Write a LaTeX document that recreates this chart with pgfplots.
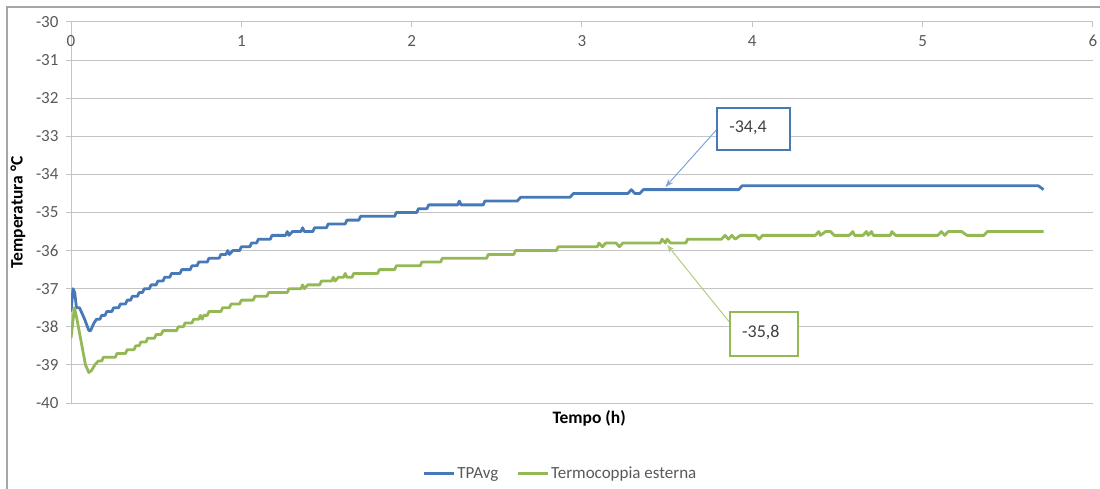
\documentclass[border=0pt]{standalone}
\usepackage{fontspec}
\setmainfont{Carlito}
\usepackage{pgfplots}
\pgfplotsset{compat=1.18}
\usetikzlibrary{arrows.meta}
\definecolor{blueS}{HTML}{4779B8}
\definecolor{greenS}{HTML}{94B853}
\definecolor{blueA}{HTML}{7EA6D6}
\definecolor{greenA}{HTML}{B0CE80}
\definecolor{gridgray}{HTML}{C4C4C4}
\definecolor{framegray}{HTML}{A6A6A6}
\definecolor{txtgray}{HTML}{595959}
\definecolor{boxtxt}{HTML}{404040}
\begin{document}
\begin{tikzpicture}[font=\fontsize{17bp}{20bp}\selectfont]
\useasboundingbox (0,0) rectangle (1100bp,489bp);
\draw[framegray, line width=1.2bp] (7bp,-5bp) -- (7bp,482bp) -- (1105bp,482bp);
\begin{axis}[
  at={(71bp,86bp)}, anchor=south west,
  scale only axis, width=1022bp, height=381bp,
  xmin=0, xmax=6, ymin=-40, ymax=-30,
  xtick={0,1,2,3,4,5,6}, ytick={-40,-39,-38,-37,-36,-35,-34,-33,-32,-31,-30},
  axis x line*=top, axis y line*=left,
  axis line style={draw=gridgray, line width=1bp},
  ymajorgrids, grid style={draw=gridgray, line width=1bp},
  xtick align=inside, ytick align=outside,
  major tick length=5bp,
  tick style={draw=gridgray, line width=1bp},
  tick label style={font=\fontsize{17bp}{20bp}\selectfont, text=txtgray, /pgf/number format/assume math mode=true},
  xticklabel style={anchor=north, yshift=-10bp},
  yticklabel style={xshift=-4bp},
  every axis y label/.style={at={(rel axis cs:0,0.5)}, xshift=-53bp, rotate=90, anchor=center, font=\bfseries\fontsize{17.5bp}{20bp}\selectfont},
  ylabel={Temperatura °C},
  every axis x label/.style={at={(rel axis cs:0.507,0)}, yshift=-15bp, anchor=center, font=\bfseries\fontsize{17.5bp}{20bp}\selectfont},
  xlabel={Tempo (h)},
  legend style={at={(rel axis cs:0.479,-0.186)}, anchor=center, draw=none, fill=none, legend columns=2, font=\fontsize{17bp}{20bp}\selectfont, text=txtgray, /tikz/every even column/.append style={column sep=16bp}},
  legend image code/.code={\draw[#1, line width=2.8bp] (0bp,0bp) -- (30bp,0bp);},
]
\addplot[blueS, line width=2.8bp, line join=round] coordinates {(0,-37.6) (0.012,-37.0) (0.022,-37.1) (0.032,-37.5) (0.05,-37.5) (0.06,-37.6) (0.08,-37.8) (0.105,-38.1) (0.115,-38.1) (0.135,-37.9) (0.15,-37.8) (0.17,-37.8) (0.18,-37.7) (0.2,-37.7) (0.21,-37.6) (0.24,-37.6) (0.25,-37.5) (0.28,-37.5) (0.29,-37.4) (0.32,-37.4) (0.33,-37.3) (0.35,-37.3) (0.36,-37.2) (0.39,-37.2) (0.4,-37.1) (0.42,-37.1) (0.43,-37.0) (0.46,-37.0) (0.47,-36.9) (0.5,-36.9) (0.51,-36.8) (0.54,-36.8) (0.55,-36.7) (0.58,-36.7) (0.59,-36.6) (0.64,-36.6) (0.65,-36.5) (0.7,-36.5) (0.71,-36.4) (0.74,-36.4) (0.75,-36.3) (0.8,-36.3) (0.81,-36.2) (0.87,-36.2) (0.88,-36.1) (0.91,-36.1) (0.92,-36.0) (0.93,-36.1) (0.95,-36.0) (0.99,-36.0) (1.0,-35.9) (1.05,-35.9) (1.06,-35.8) (1.09,-35.8) (1.1,-35.7) (1.17,-35.7) (1.18,-35.6) (1.26,-35.6) (1.27,-35.5) (1.28,-35.6) (1.3,-35.5) (1.35,-35.5) (1.36,-35.4) (1.37,-35.5) (1.42,-35.5) (1.43,-35.4) (1.5,-35.4) (1.51,-35.3) (1.61,-35.3) (1.62,-35.2) (1.69,-35.2) (1.7,-35.1) (1.9,-35.1) (1.91,-35.0) (2.03,-35.0) (2.04,-34.9) (2.09,-34.9) (2.1,-34.8) (2.27,-34.8) (2.28,-34.7) (2.29,-34.8) (2.42,-34.8) (2.43,-34.7) (2.62,-34.7) (2.64,-34.6) (2.93,-34.6) (2.95,-34.5) (3.27,-34.5) (3.29,-34.4) (3.31,-34.5) (3.34,-34.5) (3.36,-34.4) (3.92,-34.4) (3.94,-34.3) (5.68,-34.3) (5.71,-34.4)};
\addlegendentry{TPAvg}
\addplot[greenS, line width=2.8bp, line join=round] coordinates {(0,-38.3) (0.02,-37.5) (0.035,-37.8) (0.06,-38.4) (0.085,-39.0) (0.105,-39.2) (0.12,-39.15) (0.14,-39.0) (0.16,-38.9) (0.18,-38.9) (0.19,-38.8) (0.26,-38.8) (0.27,-38.7) (0.32,-38.7) (0.33,-38.6) (0.37,-38.6) (0.38,-38.5) (0.4,-38.5) (0.41,-38.4) (0.44,-38.4) (0.45,-38.3) (0.49,-38.3) (0.5,-38.2) (0.53,-38.2) (0.54,-38.1) (0.62,-38.1) (0.63,-38.0) (0.66,-38.0) (0.67,-37.9) (0.71,-37.9) (0.72,-37.8) (0.75,-37.8) (0.76,-37.7) (0.77,-37.8) (0.78,-37.7) (0.8,-37.7) (0.81,-37.6) (0.88,-37.6) (0.89,-37.5) (0.93,-37.5) (0.94,-37.4) (0.99,-37.4) (1.0,-37.3) (1.07,-37.3) (1.08,-37.2) (1.15,-37.2) (1.16,-37.1) (1.27,-37.1) (1.28,-37.0) (1.35,-37.0) (1.36,-36.9) (1.37,-37.0) (1.39,-36.9) (1.46,-36.9) (1.47,-36.8) (1.53,-36.8) (1.54,-36.7) (1.55,-36.8) (1.57,-36.7) (1.6,-36.7) (1.61,-36.6) (1.62,-36.7) (1.65,-36.7) (1.66,-36.6) (1.8,-36.6) (1.81,-36.5) (1.9,-36.5) (1.91,-36.4) (2.05,-36.4) (2.06,-36.3) (2.17,-36.3) (2.18,-36.2) (2.44,-36.2) (2.45,-36.1) (2.6,-36.1) (2.61,-36.0) (2.85,-36.0) (2.86,-35.9) (3.09,-35.9) (3.1,-35.8) (3.12,-35.9) (3.14,-35.8) (3.2,-35.8) (3.22,-35.9) (3.24,-35.8) (3.46,-35.8) (3.47,-35.7) (3.49,-35.8) (3.5,-35.7) (3.52,-35.8) (3.61,-35.8) (3.62,-35.7) (3.82,-35.7) (3.84,-35.6) (3.86,-35.7) (3.88,-35.6) (3.9,-35.7) (3.93,-35.6) (4.02,-35.6) (4.04,-35.7) (4.06,-35.6) (4.37,-35.6) (4.39,-35.5) (4.4,-35.6) (4.43,-35.5) (4.46,-35.5) (4.48,-35.6) (4.57,-35.6) (4.59,-35.5) (4.6,-35.6) (4.65,-35.6) (4.67,-35.5) (4.68,-35.6) (4.7,-35.5) (4.71,-35.6) (4.81,-35.6) (4.82,-35.5) (4.84,-35.6) (5.09,-35.6) (5.11,-35.5) (5.13,-35.6) (5.15,-35.5) (5.23,-35.5) (5.26,-35.6) (5.36,-35.6) (5.38,-35.5) (5.71,-35.5)};
\addlegendentry{Termocoppia esterna}
\draw[blueA, line width=1bp, -{Stealth[length=8bp,width=6bp]}] (axis cs:3.80,-32.78) -- (axis cs:3.49,-34.33);
\draw[blueS, line width=2bp, fill=white] (axis cs:3.793,-32.257) rectangle (axis cs:4.222,-33.36);
\node[text=boxtxt, font=\fontsize{18bp}{20bp}\selectfont] at (axis cs:3.975,-32.78) {-34,4};
\draw[greenA, line width=1bp, -{Stealth[length=8bp,width=6bp]}] (axis cs:3.87,-37.90) -- (axis cs:3.50,-35.85);
\draw[greenS, line width=2bp, fill=white] (axis cs:3.870,-37.61) rectangle (axis cs:4.269,-38.77);
\node[text=boxtxt, font=\fontsize{18bp}{20bp}\selectfont] at (axis cs:4.05,-38.14) {-35,8};
\end{axis}
\end{tikzpicture}
\end{document}
